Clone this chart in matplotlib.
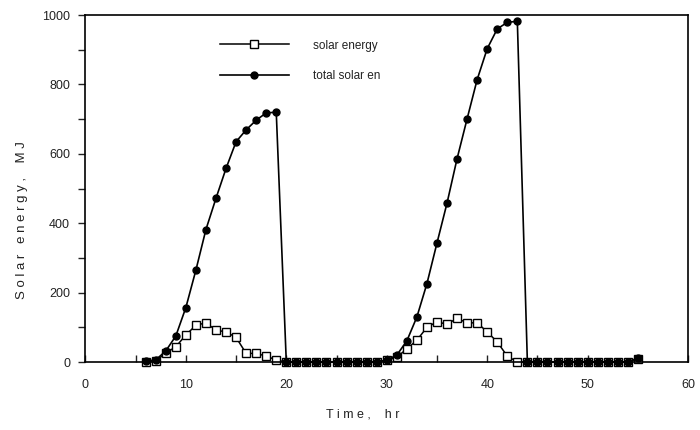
import numpy as np
import matplotlib
matplotlib.use("Agg")
import matplotlib.pyplot as plt
from matplotlib.ticker import MultipleLocator

# hourly readings, hours 6..55
hours = np.arange(6, 56)

solar_energy = [
    0, 3, 26, 44, 78, 106, 113, 92, 87, 71, 25, 25, 17, 6,      # 6-19
    0, 0, 0, 0, 0, 0, 0, 0, 0, 0,                               # 20-29
    5, 14, 38, 63, 100, 116, 109, 126, 113, 113, 87, 58, 17, 0, # 30-43
    0, 0, 0, 0, 0, 0, 0, 0, 0, 0, 0,                            # 44-54
    10,                                                         # 55
]

total_solar_en = [
    3, 6, 32, 75, 157, 265, 382, 472, 558, 635, 669, 697, 718, 720,      # 6-19
    0, 0, 0, 0, 0, 0, 0, 0, 0, 0,                                        # 20-29
    6, 20, 61, 130, 226, 343, 458, 586, 701, 814, 903, 960, 979, 982,    # 30-43
    0, 0, 0, 0, 0, 0, 0, 0, 0, 0, 0,                                     # 44-54
    12,                                                                  # 55
]

x_ticks = [0, 10, 20, 30, 40, 50, 60]
y_ticks = [0, 200, 400, 600, 800, 1000]

plt.rcParams["font.family"] = ["Liberation Sans", "DejaVu Sans"]
text_color = "#222222"

fig = plt.figure(figsize=(7.0, 4.3), dpi=100)
ax = fig.add_axes([0.122, 0.158, 0.861, 0.807])

ax.plot(hours, solar_energy, color="black", linewidth=1.1, marker="s",
        markersize=5.5, markerfacecolor="white", markeredgecolor="black",
        markeredgewidth=1.0, label="solar energy", clip_on=False)
ax.plot(hours, total_solar_en, color="black", linewidth=1.2, marker="o",
        markersize=5.0, markerfacecolor="black", markeredgecolor="black",
        label="total solar en", clip_on=False)

ax.set_xlim(0, 60)
ax.set_ylim(0, 1000)
ax.set_xticks(x_ticks)
ax.set_yticks(y_ticks)
ax.xaxis.set_minor_locator(MultipleLocator(5))
ax.yaxis.set_minor_locator(MultipleLocator(100))

ax.tick_params(axis="x", which="both", direction="in", length=5, width=1.0,
               labelsize=9, pad=12, colors=text_color)
ax.tick_params(axis="y", which="both", direction="out", length=5, width=1.0,
               labelsize=9, pad=6, colors=text_color)
for side in ["left", "right", "top", "bottom"]:
    ax.spines[side].set_linewidth(1.2)

ax.set_xlabel("T i m e ,    h r", fontsize=9, color=text_color)
ax.xaxis.set_label_coords(0.46, -0.135)
ax.set_ylabel("S o l a r   e n e r g y ,    M J", fontsize=9.5, color=text_color)
ax.yaxis.set_label_coords(-0.095, 0.41)

leg = ax.legend(loc="upper left", bbox_to_anchor=(0.205, 0.96), frameon=False,
                fontsize=8.5, handlelength=5.9, handletextpad=2.0,
                labelspacing=1.6)
for txt in leg.get_texts():
    txt.set_color(text_color)

fig.savefig("out.png", dpi=100)
